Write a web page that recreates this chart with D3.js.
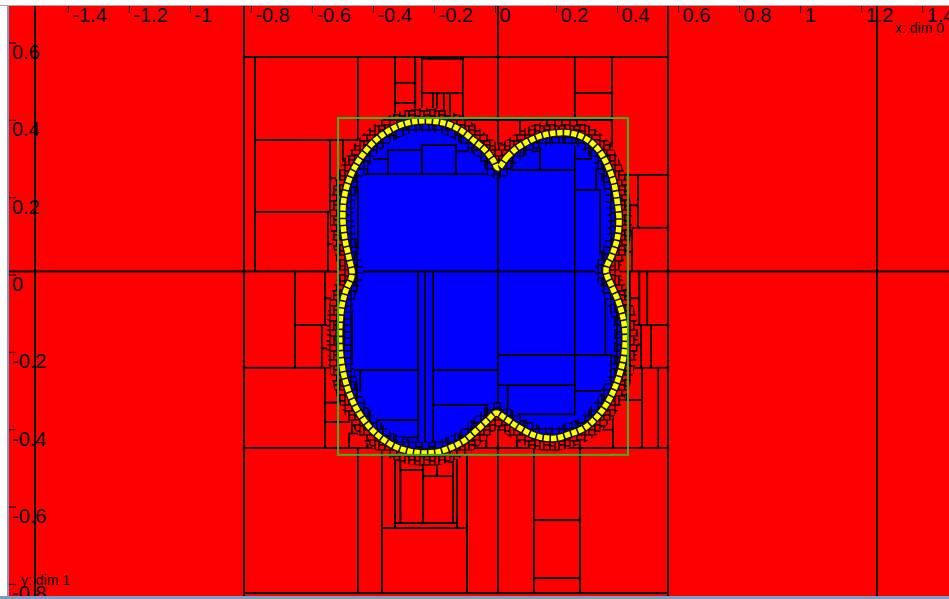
<!DOCTYPE html>
<html><head><meta charset="utf-8">
<script src="https://cdn.jsdelivr.net/npm/d3@7"></script>
<style>
html,body{margin:0;padding:0;background:#fff;overflow:hidden}
svg{display:block}
text{font-family:"Liberation Sans",Arial,sans-serif}
</style></head><body>
<svg id="chart" width="949" height="599"></svg>
<script>
// ---- axis ticks ----
const xTicks = [-1.4,-1.2,-1,-0.8,-0.6,-0.4,-0.2,0,0.2,0.4,0.6,0.8,1,1.2,1.4];
const xTickLabels = ["-1.4","-1.2","-1","-0.8","-0.6","-0.4","-0.2","0","0.2","0.4","0.6","0.8","1","1.2","1.4"];
const yTicks = [0.6,0.4,0.2,0,-0.2,-0.4,-0.6,-0.8];
const yTickLabels = ["0.6","0.4","0.2","0","-0.2","-0.4","-0.6","-0.8"];
const xAxisName = "x: dim 0";
const yAxisName = "y: dim 1";

// ---- paving: outer (red) boxes [xmin,xmax,ymin,ymax] ----
const outerBoxes = [
  [-1.70,-1.509,0.009,0.80],[-1.70,-1.509,-0.90,0.009],
  [-1.509,-0.824,0.009,0.80],[-1.509,-0.824,-0.90,0.009],
  [-0.824,0.008,0.564,0.80],[0.008,0.565,0.564,0.80],
  [0.565,1.250,0.009,0.80],[0.565,1.250,-0.90,0.009],
  [1.250,1.60,0.009,0.80],[1.250,1.60,-0.90,0.009],
  [-0.824,0.565,-0.90,-0.822],
  [-0.824,-0.788,0.009,0.564],[-0.788,-0.451,0.349,0.564],
  [-0.788,-0.542,0.163,0.349],[-0.788,-0.549,0.009,0.163],
  [-0.824,-0.657,-0.240,0.009],[-0.657,-0.559,-0.129,0.009],
  [-0.657,-0.569,-0.240,-0.129],[-0.824,-0.559,-0.447,-0.240],
  [-0.559,-0.516,-0.060,0.009],[-0.559,-0.516,-0.129,-0.060],
  [-0.569,-0.516,-0.190,-0.129],[-0.569,-0.516,-0.240,-0.190],
  [-0.559,-0.516,-0.330,-0.240],[-0.559,-0.516,-0.447,-0.330],
  [-0.542,-0.500,0.250,0.349],[-0.542,-0.500,0.163,0.250],
  [-0.549,-0.505,0.080,0.163],[-0.549,-0.505,0.009,0.080],
  [-0.500,-0.451,0.300,0.349],[-0.451,-0.400,0.300,0.349],
  [-0.451,-0.329,0.349,0.564],[-0.329,-0.263,0.497,0.564],
  [-0.329,-0.263,0.445,0.497],[-0.329,-0.263,0.380,0.445],
  [-0.263,-0.241,0.380,0.564],[-0.241,-0.107,0.559,0.564],
  [-0.241,-0.107,0.471,0.559],[-0.241,-0.205,0.420,0.471],
  [-0.192,-0.169,0.420,0.471],[-0.169,-0.149,0.400,0.471],
  [-0.149,-0.107,0.380,0.471],[-0.107,0.008,0.401,0.564],
  [0.008,0.260,0.401,0.564],[0.260,0.382,0.471,0.564],
  [0.260,0.382,0.401,0.471],[0.382,0.565,0.259,0.564],
  [-0.084,0.008,0.320,0.401],[0.008,0.080,0.340,0.401],
  [0.080,0.180,0.370,0.401],[0.180,0.260,0.375,0.401],
  [0.260,0.382,0.340,0.401],
  [0.467,0.565,0.122,0.259],[0.447,0.565,0.009,0.122],
  [0.382,0.467,0.180,0.259],[0.420,0.467,0.122,0.180],
  [0.405,0.447,0.060,0.122],[0.400,0.447,0.009,0.060],
  [0.497,0.565,-0.129,0.009],[0.471,0.497,-0.129,0.009],
  [0.440,0.471,-0.060,0.009],[0.440,0.471,-0.129,-0.060],
  [0.510,0.565,-0.240,-0.129],[0.477,0.510,-0.240,-0.129],
  [0.440,0.477,-0.180,-0.129],[0.440,0.477,-0.240,-0.180],
  [0.533,0.565,-0.447,-0.240],[0.480,0.533,-0.447,-0.240],
  [0.385,0.480,-0.447,-0.323],[0.430,0.480,-0.323,-0.240],
  [-0.824,-0.451,-0.822,-0.447],[-0.451,-0.372,-0.822,-0.447],
  [-0.372,-0.093,-0.822,-0.654],[-0.372,-0.329,-0.654,-0.447],
  [-0.329,-0.126,-0.654,-0.641],[-0.126,-0.093,-0.654,-0.447],
  [-0.312,-0.237,-0.641,-0.504],[-0.237,-0.139,-0.641,-0.520],
  [-0.329,-0.312,-0.641,-0.447],[-0.139,-0.126,-0.641,-0.447],
  [-0.312,-0.237,-0.504,-0.484],[-0.237,-0.192,-0.520,-0.484],
  [-0.192,-0.139,-0.520,-0.484],
  [-0.093,0.008,-0.822,-0.447],[0.008,0.126,-0.822,-0.447],
  [0.126,0.277,-0.634,-0.447],[0.126,0.277,-0.784,-0.634],
  [0.126,0.277,-0.822,-0.784],[0.277,0.565,-0.822,-0.447],
  [0.277,0.385,-0.447,-0.400],[-0.100,-0.030,-0.447,-0.400],
  [-0.030,0.008,-0.447,-0.390],[0.008,0.070,-0.447,-0.400],
  [0.070,0.126,-0.447,-0.420],
  [-0.559,-0.470,-0.447,-0.380],[-0.480,-0.420,-0.447,-0.410]
];

// ---- inner (blue) boxes ----
const innerBoxes = [
  [-0.451,0.008,0.009,0.261],[-0.241,-0.130,0.261,0.336],
  [-0.130,-0.020,0.261,0.320],[-0.352,-0.241,0.261,0.323],
  [-0.420,-0.352,0.261,0.300],[0.008,0.260,0.009,0.272],
  [0.040,0.146,0.272,0.320],[0.146,0.260,0.272,0.350],
  [0.260,0.343,0.009,0.220],[0.260,0.330,0.220,0.300],
  [-0.470,-0.254,-0.246,0.009],[-0.254,-0.231,-0.447,0.009],
  [-0.231,-0.205,-0.447,0.009],[-0.205,0.008,-0.246,0.009],
  [-0.443,-0.254,-0.375,-0.246],[-0.205,0.008,-0.336,-0.246],
  [0.008,0.260,-0.207,0.009],[0.008,0.260,-0.285,-0.207],
  [0.260,0.360,-0.207,0.009],[0.260,0.380,-0.300,-0.207],
  [0.040,0.260,-0.360,-0.285],[-0.400,-0.254,-0.420,-0.375]
];

// ---- boundary (yellow) boxes along the curve, [x,y] ----
const boundary = [
  [0.008,0.277],[0.038,0.305],[0.070,0.328],[0.103,0.344],[0.146,0.359],[0.195,0.367],
  [0.244,0.367],[0.293,0.354],[0.333,0.328],[0.362,0.292],[0.385,0.246],[0.398,0.194],
  [0.405,0.142],[0.398,0.091],[0.382,0.052],[0.362,0.013],[0.379,-0.026],[0.401,-0.065],
  [0.418,-0.111],[0.425,-0.155],[0.421,-0.207],[0.408,-0.253],[0.388,-0.297],[0.362,-0.336],
  [0.329,-0.370],[0.290,-0.396],[0.244,-0.411],[0.195,-0.422],[0.146,-0.419],[0.103,-0.406],
  [0.064,-0.388],[0.031,-0.370],[0.002,-0.357],[-0.025,-0.375],[-0.061,-0.401],[-0.100,-0.427],
  [-0.143,-0.445],[-0.192,-0.458],[-0.241,-0.460],[-0.287,-0.455],[-0.333,-0.442],[-0.375,-0.421],
  [-0.411,-0.395],[-0.443,-0.362],[-0.470,-0.323],[-0.490,-0.279],[-0.503,-0.233],[-0.510,-0.181],
  [-0.510,-0.129],[-0.503,-0.078],[-0.490,-0.039],[-0.470,0.000],[-0.480,0.044],[-0.493,0.091],
  [-0.500,0.142],[-0.497,0.194],[-0.483,0.240],[-0.461,0.279],[-0.431,0.315],[-0.395,0.347],
  [-0.352,0.372],[-0.303,0.390],[-0.254,0.398],[-0.205,0.398],[-0.156,0.390],[-0.110,0.372],
  [-0.070,0.347],[-0.034,0.323],[-0.008,0.297]
];

// ---- enclosing frame (green) [xmin,xmax,ymin,ymax] ----
const frame = [-0.516,0.434,-0.465,0.406];

const W = 949, H = 599;
const plotArea = {left:9, top:6, right:949, bottom:596};
const x = d3.scaleLinear().domain([-1.4,1.4]).range([68.3,922.7]);
const y = d3.scaleLinear().domain([0.6,-0.8]).range([43,584.4]);

const svg = d3.select("#chart");
const defs = svg.append("defs");
defs.append("clipPath").attr("id","plotClip").append("rect")
  .attr("x",plotArea.left).attr("y",plotArea.top)
  .attr("width",plotArea.right-plotArea.left).attr("height",plotArea.bottom-plotArea.top);

const curve = d3.line().x(d=>x(d[0])).y(d=>y(d[1])).curve(d3.curveCatmullRomClosed.alpha(0.5));
const shapeD = curve(boundary);
defs.append("clipPath").attr("id","inClip").append("path").attr("d",shapeD);
defs.append("clipPath").attr("id","outClip").append("path")
  .attr("clip-rule","evenodd").attr("d",`M-10,-10H${W+10}V${H+10}H-10Z` + shapeD);

function cellPattern(id, fill, size, cells){
  const p = defs.append("pattern").attr("id",id).attr("patternUnits","userSpaceOnUse")
    .attr("width",size).attr("height",size);
  p.append("rect").attr("width",size).attr("height",size).attr("fill",fill);
  p.selectAll("rect.c").data(cells).join("rect").attr("class","c")
    .attr("x",d=>d[0]).attr("y",d=>d[1]).attr("width",d=>d[2]).attr("height",d=>d[3])
    .attr("fill",fill).attr("stroke","#000").attr("stroke-width",1.3);
}
cellPattern("redCells","#ff0000",15,[[0,0,7,6],[7,0,8,5],[0,6,4,9],[4,6,6,4],[10,5,5,6],[4,10,6,5],[10,11,5,4]]);
cellPattern("blueCells","#0000ff",13,[[0,0,6,5],[6,0,7,7],[0,5,4,8],[4,5,2,8],[6,7,7,6]]);

const g = svg.append("g").attr("clip-path","url(#plotClip)");
g.append("rect").attr("x",plotArea.left).attr("y",plotArea.top)
  .attr("width",plotArea.right-plotArea.left).attr("height",plotArea.bottom-plotArea.top)
  .attr("fill","#ff0000");

function drawBoxes(sel, data, fill){
  sel.selectAll("rect.box").data(data).join("rect").attr("class","box")
    .attr("x",d=>x(d[0])).attr("y",d=>y(d[3]))
    .attr("width",d=>x(d[1])-x(d[0])).attr("height",d=>y(d[2])-y(d[3]))
    .attr("fill",fill).attr("stroke","#000").attr("stroke-width",1.8);
}
drawBoxes(g.append("g"), outerBoxes, "#ff0000");

// interior
const inner = g.append("g").attr("clip-path","url(#inClip)");
inner.append("path").attr("d",shapeD).attr("fill","#0000ff");
drawBoxes(inner.append("g"), innerBoxes, "#0000ff");
inner.append("path").attr("d",shapeD).attr("fill","none")
  .attr("stroke","url(#blueCells)").attr("stroke-width",22);

// small outer cells near boundary
g.append("g").attr("clip-path","url(#outClip)").append("path").attr("d",shapeD)
  .attr("fill","none").attr("stroke","url(#redCells)").attr("stroke-width",26);

// boundary chain
g.append("path").attr("d",shapeD).attr("fill","none").attr("stroke","#111").attr("stroke-width",8.5);
g.append("path").attr("d",shapeD).attr("fill","none").attr("stroke","#ffff00")
  .attr("stroke-width",5.5).attr("stroke-dasharray","5.5 1.6");

// frame
g.append("rect").attr("x",x(frame[0])).attr("y",y(frame[3]))
  .attr("width",x(frame[1])-x(frame[0])).attr("height",y(frame[2])-y(frame[3]))
  .attr("fill","none").attr("stroke","#3cb41e").attr("stroke-width",2);

// axes (rulers)
const ax = g.append("g");
ax.selectAll("line.xt").data(xTicks).join("line").attr("class","xt")
  .attr("x1",d=>x(d)).attr("x2",d=>x(d)).attr("y1",plotArea.top).attr("y2",plotArea.top+7)
  .attr("stroke","#000").attr("stroke-width",1);
ax.selectAll("text.xl").data(xTicks).join("text").attr("class","xl")
  .attr("x",d=>x(d)+4).attr("y",22).attr("font-size",20).attr("fill","#000")
  .text((d,i)=>xTickLabels[i]);
ax.selectAll("line.yt").data(yTicks).join("line").attr("class","yt")
  .attr("y1",d=>y(d)).attr("y2",d=>y(d)).attr("x1",plotArea.left).attr("x2",plotArea.left+7)
  .attr("stroke","#000").attr("stroke-width",1);
ax.selectAll("text.yl").data(yTicks).join("text").attr("class","yl")
  .attr("x",plotArea.left+3).attr("y",d=>y(d)+16).attr("font-size",20).attr("fill","#000")
  .text((d,i)=>yTickLabels[i]);
ax.append("text").attr("x",895).attr("y",33).attr("font-size",14).attr("fill","#000").text(xAxisName);
ax.append("text").attr("x",21).attr("y",585).attr("font-size",14).attr("fill","#000").text(yAxisName);

// window frame
svg.append("line").attr("x1",0).attr("x2",W).attr("y1",5.5).attr("y2",5.5).attr("stroke","#a8a8a8").attr("stroke-width",1);
svg.append("line").attr("x1",8).attr("x2",8).attr("y1",6).attr("y2",H).attr("stroke","#7f9dc4").attr("stroke-width",2);
svg.append("line").attr("x1",0).attr("x2",W).attr("y1",597.5).attr("y2",597.5).attr("stroke","#7f9dc4").attr("stroke-width",3);
</script>
</body></html>
